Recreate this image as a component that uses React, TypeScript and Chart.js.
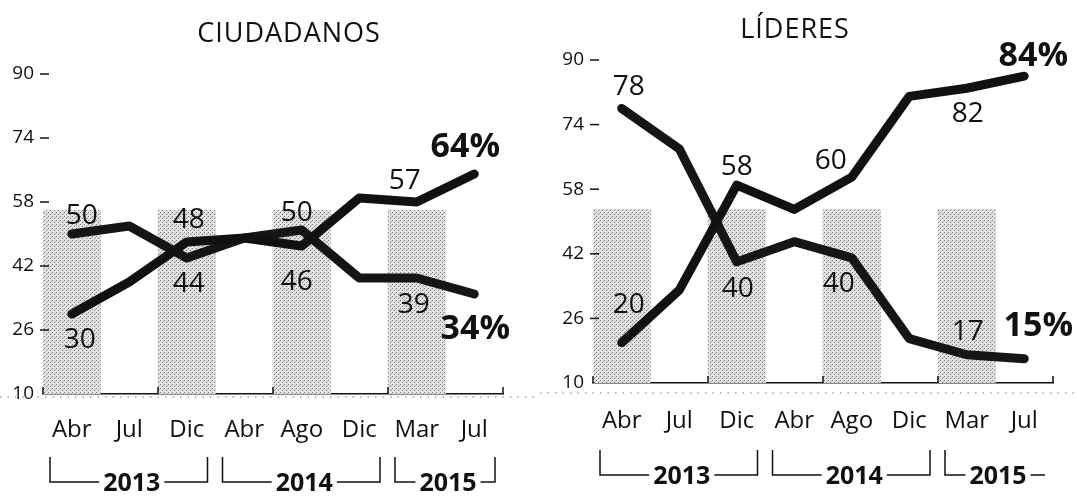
import React, { useEffect, useRef } from 'react';
import { Chart, registerables } from 'chart.js';

Chart.register(...registerables);

// ---------- data ----------
const months = ['Abr', 'Jul', 'Dic', 'Abr', 'Ago', 'Dic', 'Mar', 'Jul'];
const yTickValues = [10, 26, 42, 58, 74, 90];
const yearGroups = [
  { label: '2013', from: 0, to: 2 },
  { label: '2014', from: 3, to: 5 },
  { label: '2015', from: 6, to: 7 },
];
const shadedMonths = [true, false, true, false, true, false, true, false];

const ciudadanosUp = [30, 38, 48, 49, 47, 59, 58, 65];
const ciudadanosDown = [50, 52, 44, 49, 51, 39, 39, 35];
const ciudadanosUpLabels = ['30', null, '48', null, '46', null, '57', '64%'];
const ciudadanosDownLabels = ['50', null, '44', null, '50', null, '39', '34%'];

const lideresUp = [20, 33, 59, 53, 61, 81, 83, 86];
const lideresDown = [78, 68, 40, 45, 41, 21, 17, 16];
const lideresUpLabels = ['20', null, '58', null, '60', null, '82', '84%'];
const lideresDownLabels = ['78', null, '40', null, '40', null, '17', '15%'];

// ---------- label placement (style) ----------
const ciudadanosUpOffsets = [[8, 26], null, [2, -22], null, [-5, 36], null, [-12, -21], [-9, -27]];
const ciudadanosDownOffsets = [[10, -18], null, [2, 26], null, [-5, -17], null, [-3, 27], [1, 35]];
const lideresUpOffsets = [[7, -38], null, [0, -18], null, [-21, -16], null, [1, 26], [9, -20]];
const lideresDownOffsets = [[7, -21], null, [1, 27], null, [-13, 26], null, [1, -23], [14, -32]];

const FONT = '"Open Sans", "Noto Sans", sans-serif';
const INK = '#111111';

type Cfg = {
  title: string;
  up: number[];
  down: number[];
  upLabels: (string | null)[];
  downLabels: (string | null)[];
  upOffsets: (number[] | null)[];
  downOffsets: (number[] | null)[];
  width: number;
  canvasLeft: number;
  chartLeft: number;
  padRight: number;
  padTop: number;
  xAxisHeight: number;
  tickPad: number;
  titleX: number;
  titleY: number;
  bracketY: number;
  bandTop: number;
  openLast: boolean;
  ruleY: number;
};

const leftCfg: Cfg = {
  title: 'CIUDADANOS',
  up: ciudadanosUp,
  down: ciudadanosDown,
  upLabels: ciudadanosUpLabels,
  downLabels: ciudadanosDownLabels,
  upOffsets: ciudadanosUpOffsets,
  downOffsets: ciudadanosDownOffsets,
  width: 540,
  canvasLeft: 0,
  chartLeft: 43,
  padRight: 37,
  padTop: 74,
  xAxisHeight: 102,
  tickPad: 22,
  titleX: 289,
  titleY: 34,
  bracketY: 482,
  bandTop: 56,
  openLast: false,
  ruleY: 397,
};

const rightCfg: Cfg = {
  title: 'LÍDERES',
  up: lideresUp,
  down: lideresDown,
  upLabels: lideresUpLabels,
  downLabels: lideresDownLabels,
  upOffsets: lideresUpOffsets,
  downOffsets: lideresDownOffsets,
  width: 537,
  canvasLeft: 540,
  chartLeft: 53,
  padRight: 24,
  padTop: 60,
  xAxisHeight: 113,
  tickPad: 24,
  titleX: 255,
  titleY: 30,
  bracketY: 475,
  bandTop: 53,
  openLast: true,
  ruleY: 393,
};

function makeHalftone(): CanvasPattern | string {
  const tile = document.createElement('canvas');
  tile.width = 4;
  tile.height = 4;
  const c = tile.getContext('2d');
  if (!c) return '#cfcfcf';
  c.fillStyle = '#e2e2e2';
  c.fillRect(0, 0, 4, 4);
  c.fillStyle = '#7a7a7a';
  c.fillRect(0, 0, 1, 1);
  c.fillRect(2, 2, 1, 1);
  c.fillStyle = '#b4b4b4';
  c.fillRect(3, 1, 1, 1);
  const p = c.createPattern(tile, 'repeat');
  return p || '#cfcfcf';
}

const decorPlugin = {
  id: 'decor',
  afterDatasetsDraw(chart: any, _args: any, opts: any) {
    const cfg: Cfg = opts.cfg;
    const { ctx } = chart;
    const drawLabels = (dsIndex: number, labels: (string | null)[], offsets: (number[] | null)[]) => {
      const meta = chart.getDatasetMeta(dsIndex);
      labels.forEach((txt, i) => {
        if (!txt) return;
        const pt = meta.data[i];
        const off = offsets[i] || [0, 0];
        const bold = txt.indexOf('%') >= 0;
        ctx.save();
        ctx.font = bold ? `700 34px ${FONT}` : `400 28px ${FONT}`;
        ctx.fillStyle = INK;
        ctx.textAlign = 'center';
        ctx.textBaseline = 'middle';
        ctx.fillText(txt, pt.x + off[0], pt.y + off[1]);
        ctx.restore();
      });
    };
    drawLabels(0, cfg.upLabels, cfg.upOffsets);
    drawLabels(1, cfg.downLabels, cfg.downOffsets);
  },
  afterDraw(chart: any, _args: any, opts: any) {
    const cfg: Cfg = opts.cfg;
    const { ctx, chartArea } = chart;
    const x = chart.scales.x;
    const y = chart.scales.y;
    const half = (x.getPixelForValue(1) - x.getPixelForValue(0)) / 2;

    ctx.save();
    // title
    ctx.font = `400 27px ${FONT}`;
    ctx.fillStyle = INK;
    ctx.textAlign = 'center';
    ctx.textBaseline = 'middle';
    try { (ctx as any).letterSpacing = '1px'; } catch (e) { /* ignore */ }
    ctx.fillText(cfg.title, cfg.titleX, cfg.titleY);
    try { (ctx as any).letterSpacing = '0px'; } catch (e) { /* ignore */ }

    // y tick dashes
    ctx.strokeStyle = INK;
    ctx.lineWidth = 1.5;
    yTickValues.forEach((v) => {
      if (v === yTickValues[0]) return;
      const py = y.getPixelForValue(v);
      ctx.beginPath();
      ctx.moveTo(chartArea.left - 3, py);
      ctx.lineTo(chartArea.left + 6, py);
      ctx.stroke();
    });

    // small upward ticks at month band edges
    for (let i = 0; i <= months.length; i++) {
      const px = x.getPixelForValue(0) - half + i * 2 * half;
      if (i % 2 === 1 && i !== months.length) continue;
      ctx.beginPath();
      ctx.moveTo(px, chartArea.bottom);
      ctx.lineTo(px, chartArea.bottom - 7);
      ctx.stroke();
    }

    // dotted rule under axis
    ctx.save();
    ctx.strokeStyle = '#777';
    ctx.lineWidth = 1.2;
    ctx.setLineDash([1.5, 6]);
    ctx.beginPath();
    ctx.moveTo(0, cfg.ruleY);
    ctx.lineTo(chart.width, cfg.ruleY);
    ctx.stroke();
    ctx.restore();

    // year brackets
    ctx.font = `700 25px ${FONT}`;
    ctx.lineWidth = 1.5;
    yearGroups.forEach((g, gi) => {
      const l = x.getPixelForValue(g.from) - half + 7;
      const r = x.getPixelForValue(g.to) + half - 8;
      const by = cfg.bracketY;
      const cx = (l + r) / 2 + 3;
      const tw = ctx.measureText(g.label).width;
      const isLast = gi === yearGroups.length - 1;
      ctx.beginPath();
      ctx.moveTo(l, by - 25);
      ctx.lineTo(l, by);
      ctx.lineTo(cx - tw / 2 - 4, by);
      ctx.moveTo(cx + tw / 2 + 4, by);
      ctx.lineTo(r, by);
      if (!(isLast && cfg.openLast)) ctx.lineTo(r, by - 25);
      ctx.stroke();
      ctx.fillText(g.label, cx, by + 2);
    });
    ctx.restore();
  },
};

function PanelChart({ cfg }: { cfg: Cfg }) {
  const ref = useRef<HTMLCanvasElement>(null);
  useEffect(() => {
    if (!ref.current) return;
    const band = makeHalftone();
    const chart = new Chart(ref.current, {
      type: 'line',
      data: {
        labels: months,
        datasets: [
          {
            type: 'line',
            data: cfg.up,
            borderColor: INK,
            borderWidth: 9,
            pointRadius: 0,
            borderJoinStyle: 'round',
            borderCapStyle: 'round',
            tension: 0,
            order: 1,
          },
          {
            type: 'line',
            data: cfg.down,
            borderColor: '#151515',
            borderWidth: 9,
            pointRadius: 0,
            borderJoinStyle: 'round',
            borderCapStyle: 'round',
            tension: 0,
            order: 1,
          },
          {
            type: 'bar',
            data: shadedMonths.map((s) => (s ? cfg.bandTop : null)),
            backgroundColor: band as any,
            borderWidth: 0,
            barPercentage: 1,
            categoryPercentage: 1,
            order: 5,
          } as any,
        ],
      },
      options: {
        animation: false,
        responsive: false,
        maintainAspectRatio: false,
        events: [],
        layout: { padding: { left: 0, right: cfg.padRight, top: cfg.padTop, bottom: 0 } },
        plugins: {
          legend: { display: false },
          tooltip: { enabled: false },
          title: { display: false },
          decor: { cfg },
        } as any,
        scales: {
          x: {
            type: 'category',
            offset: true,
            grid: { display: true, drawOnChartArea: false, drawTicks: false, color: 'rgba(0,0,0,0)' },
            border: { display: true, color: INK, width: 1.5 },
            ticks: {
              color: INK,
              font: { family: FONT, size: 24 },
              padding: cfg.tickPad,
              maxRotation: 0,
              autoSkip: false,
            },
            afterFit: (s: any) => {
              s.height = cfg.xAxisHeight;
            },
          },
          y: {
            min: 10,
            max: 90,
            afterBuildTicks: (s: any) => {
              s.ticks = yTickValues.map((v) => ({ value: v }));
            },
            grid: { display: false, drawTicks: false },
            border: { display: false },
            ticks: {
              color: INK,
              font: { family: FONT, size: 19 },
              padding: 9,
              callback: (v: any) => String(v),
            },
            afterFit: (s: any) => {
              s.width = cfg.chartLeft;
            },
          },
        },
      },
      plugins: [decorPlugin as any],
    });
    return () => chart.destroy();
  }, [cfg]);
  return (
    <canvas
      ref={ref}
      width={cfg.width}
      height={496}
      style={{ position: 'absolute', left: cfg.canvasLeft, top: 0, width: cfg.width, height: 496 }}
    />
  );
}

export default function App() {
  return (
    <div style={{ position: 'absolute', left: 0, top: 0, width: 1077, height: 496, background: '#fff', overflow: 'hidden' }}>
      <PanelChart cfg={leftCfg} />
      <PanelChart cfg={rightCfg} />
    </div>
  );
}
